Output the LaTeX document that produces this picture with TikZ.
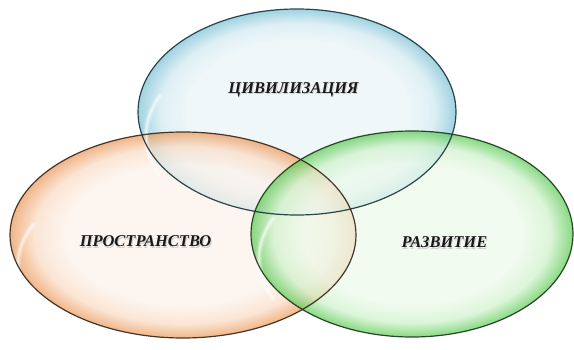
\documentclass[tikz,border=0pt]{standalone}
\usepackage{fontspec}
\setmainfont{Liberation Serif}
\newfontfamily\lblfont{Liberation Serif}[UprightFont=* Bold Italic]
\definecolor{bluein}{HTML}{EBF5F8}
\definecolor{bluemid}{HTML}{D2EAF1}
\definecolor{blueout}{HTML}{7CC2D6}
\definecolor{blueline}{HTML}{17343C}
\definecolor{orin}{HTML}{FDF2EA}
\definecolor{ormid}{HTML}{FADCC5}
\definecolor{orout}{HTML}{EC9A5A}
\definecolor{orline}{HTML}{33241A}
\definecolor{grin}{HTML}{EDFAEB}
\definecolor{grmid}{HTML}{CFF2CB}
\definecolor{grout}{HTML}{5CCB55}
\definecolor{grline}{HTML}{183618}
\pgfdeclareradialshading{blueglass}{\pgfpoint{0bp}{0bp}}{color(0bp)=(bluein); color(17bp)=(bluein); color(21.5bp)=(bluemid); color(25bp)=(blueout); color(50bp)=(blueout)}
\pgfdeclareradialshading{orglass}{\pgfpoint{0bp}{0bp}}{color(0bp)=(orin); color(17bp)=(orin); color(21.5bp)=(ormid); color(25bp)=(orout); color(50bp)=(orout)}
\pgfdeclareradialshading{grglass}{\pgfpoint{0bp}{0bp}}{color(0bp)=(grin); color(17bp)=(grin); color(21.5bp)=(grmid); color(25bp)=(grout); color(50bp)=(grout)}
\tikzset{
  glass/.style={fill opacity=0.72},
  label/.style={font=\lblfont\fontsize{16.5}{18}\selectfont, text=black!90, inner sep=0pt},
  shadowlabel/.style={font=\lblfont\fontsize{16.5}{18}\selectfont, text=black!18, inner sep=0pt},
  gloss/.style={white, line width=3pt, line cap=round, opacity=0.45},
  rim/.style={line width=1.2pt, opacity=0.9}
}
\begin{document}
\begin{tikzpicture}[x=1pt,y=-1pt]
\useasboundingbox[fill=white] (0,0) rectangle (574,350);
% ellipses
\shade[glass, shading=blueglass] (297,112) ellipse [x radius=159, y radius=103];
\shade[glass, shading=orglass] (183,235) ellipse [x radius=173, y radius=103];
\shade[glass, shading=grglass] (412,234) ellipse [x radius=161, y radius=103];
% soft gloss highlights
\foreach \w/\o in {6/0.18, 3.5/0.3, 1.5/0.45} {
  \draw[gloss, line width=\w pt, opacity=\o] (297,112) ++(155:151) arc[start angle=155, end angle=205, x radius=151, y radius=95];
  \draw[gloss, line width=\w pt, opacity=\o] (183,235) ++(155:165) arc[start angle=155, end angle=205, x radius=165, y radius=95];
  \draw[gloss, line width=\w pt, opacity=\o] (412,234) ++(155:153) arc[start angle=155, end angle=205, x radius=153, y radius=95];
}
% outlines on top
\draw[rim, draw=blueline] (297,112) ellipse [x radius=159, y radius=103];
\draw[rim, draw=orline] (183,235) ellipse [x radius=173, y radius=103];
\draw[rim, draw=grline] (412,234) ellipse [x radius=161, y radius=103];
% labels
\node[shadowlabel] (civs) at (294.5,91) {ЦИВИЛИЗАЦИЯ};
\node[label] (civ) at (293.5,89.5) {ЦИВИЛИЗАЦИЯ};
\node[shadowlabel] (spas) at (146.5,243) {ПРОСТРАНСТВО};
\node[label] (spa) at (145.5,241.5) {ПРОСТРАНСТВО};
\node[shadowlabel] (devs) at (445.5,244) {РАЗВИТИЕ};
\node[label] (dev) at (444.5,242.5) {РАЗВИТИЕ};
\end{tikzpicture}
\end{document}
